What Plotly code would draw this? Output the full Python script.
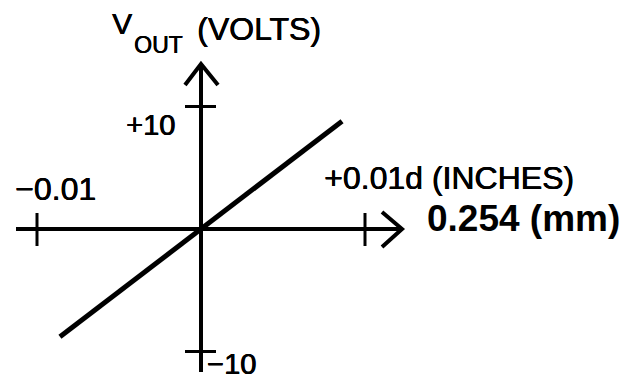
import plotly.graph_objects as go

# ---- data ----
displacement_in = [-0.0086, 0.0086]      # d (inches)
vout_volts = [-8.8, 8.8]                 # V_OUT (volts)
x_tick_vals = [-0.01, 0.01]
x_tick_labels = ["\u22120.01", "+0.01d (INCHES)"]
y_tick_vals = [10, -10]
y_tick_labels = ["+10", "\u221210"]
x_title_mm = "0.254 (mm)"

# ---- geometry: page pixels (browser body has an 8px margin) ----
OFF = 8
W, H = 630 - OFF, 379 - OFF
X0, XS = 201.0, 16400.0   # page px of x=0, px per inch
Y0, YS = 229.0, 12.25     # page px of y=0, px per volt


def xd(px):
    return (px - X0) / XS


def yd(py):
    return (Y0 - py) / YS


def dxd(dpx):
    return dpx / XS


def dyd(dpx):
    return dpx / YS


FONT = "Arial, 'Liberation Sans', sans-serif"
BLACK = "#000000"
HEAVY = "0.6px 0 0 #000, 0 0.4px 0 #000"

fig = go.Figure()

shapes = []
# axes
shapes.append(dict(type="line", xref="x", yref="y", x0=xd(16), x1=xd(401), y0=0, y1=0,
                   line=dict(color=BLACK, width=4)))
shapes.append(dict(type="line", xref="x", yref="y", x0=0, x1=0, y0=yd(372), y1=yd(65),
                   line=dict(color=BLACK, width=4)))
# arrow heads
tip_x = xd(402)
shapes.append(dict(type="path", xref="x", yref="y",
                   path=f"M {tip_x - dxd(20)},{dyd(17)} L {tip_x},0 L {tip_x - dxd(20)},{-dyd(18)}",
                   line=dict(color=BLACK, width=4)))
tip_y = yd(64)
shapes.append(dict(type="path", xref="x", yref="y",
                   path=f"M {-dxd(16)},{tip_y - dyd(21)} L 0,{tip_y} L {dxd(17)},{tip_y - dyd(21)}",
                   line=dict(color=BLACK, width=4)))
# tick marks
for xv in x_tick_vals:
    shapes.append(dict(type="line", xref="x", yref="y", x0=xv, x1=xv, y0=dyd(16), y1=-dyd(17),
                       line=dict(color=BLACK, width=3)))
for yv in y_tick_vals:
    shapes.append(dict(type="line", xref="x", yref="y", x0=-dxd(16), x1=dxd(15), y0=yv, y1=yv,
                       line=dict(color=BLACK, width=3)))

# transfer line
fig.add_trace(go.Scatter(x=displacement_in, y=vout_volts, mode="lines",
                         line=dict(color=BLACK, width=5), hoverinfo="skip", showlegend=False))


def f(size, bold=False):
    return dict(size=size, family=FONT, color=BLACK, shadow="none" if bold else HEAVY)


annotations = [
    dict(text="V", x=xd(111), y=yd(23), xanchor="left", yanchor="middle", font=f(30)),
    dict(text="OUT", x=xd(133), y=yd(44.5), xanchor="left", yanchor="middle", font=f(23)),
    dict(text="(VOLTS)", x=xd(196), y=yd(29), xanchor="left", yanchor="middle", font=f(32)),
    dict(text=y_tick_labels[0], x=xd(176), y=yd(125), xanchor="right", yanchor="middle", font=f(29)),
    dict(text=y_tick_labels[1], x=xd(206), y=yd(364), xanchor="left", yanchor="middle", font=f(29)),
    dict(text=x_tick_labels[0], x=xd(14), y=yd(188.5), xanchor="left", yanchor="middle", font=f(32)),
    dict(text=x_tick_labels[1], x=xd(323), y=yd(177.5), xanchor="left", yanchor="middle", font=f(32)),
    dict(text="<b>" + x_title_mm + "</b>", x=xd(426), y=yd(218.5), xanchor="left", yanchor="middle",
         font=f(37, bold=True)),
]
for a in annotations:
    a.update(xref="x", yref="y", showarrow=False, borderpad=0)

fig.update_layout(
    width=W, height=H,
    margin=dict(l=0, r=0, t=0, b=0),
    paper_bgcolor="white", plot_bgcolor="white",
    xaxis=dict(range=[xd(OFF), xd(OFF + W)], visible=False, fixedrange=True),
    yaxis=dict(range=[yd(OFF + H), yd(OFF)], visible=False, fixedrange=True),
    shapes=shapes,
    annotations=annotations,
    showlegend=False,
)

fig.write_html("out.html")
